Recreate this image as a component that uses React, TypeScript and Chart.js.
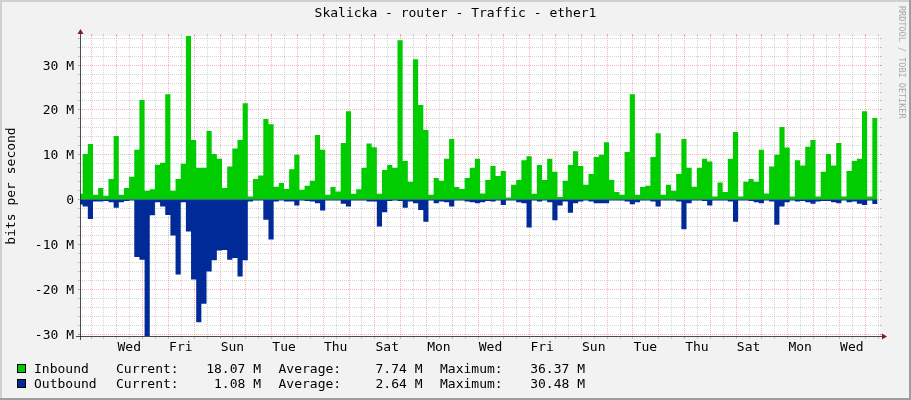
import React, { useEffect, useRef } from "react";
import { Chart, registerables } from "chart.js";

Chart.register(...registerables);

const W = 911;
const H = 400;

const TITLE = "Skalicka - router - Traffic - ether1";
const Y_AXIS_TITLE = "bits per second";
const WATERMARK = "RRDTOOL / TOBI OETIKER";

// x axis in days, 0 = left edge of plot
const SPAN_DAYS = 31;
const FIRST_MIDNIGHT = 0.407;
const STEP_DAYS = 0.2;
const DATA_START = -0.097;
const DAY_LABELS = ["Wed", "Fri", "Sun", "Tue", "Thu", "Sat", "Mon", "Wed", "Fri", "Sun", "Tue", "Thu", "Sat", "Mon", "Wed"];

// y axis in M (bits per second / 1e6)
const Y_MIN = -30.48;
const Y_MAX = 36.37;
const Y_TICKS = [-30, -20, -10, 0, 10, 20, 30];
const Y_TICK_LABELS = ["-30 M", "-20 M", "-10 M", "0", "10 M", "20 M", "30 M"];

const inbound = [
  1.2, 10.1, 12.3, 1.0, 2.5, 0.8, 4.5, 14.1, 1.0, 2.5,
  5.0, 11.0, 22.1, 1.9, 2.2, 7.7, 8.1, 23.4, 1.9, 4.5,
  7.9, 36.37, 13.2, 7.0, 7.0, 15.2, 10.1, 9.0, 2.5, 7.3,
  11.3, 13.2, 21.4, 0.6, 4.5, 5.3, 17.9, 16.7, 2.8, 3.6,
  2.3, 6.7, 9.9, 2.1, 3.0, 4.1, 14.3, 11.0, 1.0, 2.7,
  1.7, 12.5, 19.6, 1.2, 2.2, 7.0, 12.4, 11.6, 1.2, 6.5,
  7.6, 7.0, 35.4, 8.5, 3.9, 31.2, 21.0, 15.4, 1.0, 4.7,
  4.1, 9.0, 13.4, 2.7, 2.3, 4.7, 7.0, 9.0, 1.3, 4.3,
  7.4, 5.2, 6.3, 0.4, 3.2, 4.3, 8.7, 9.6, 1.2, 7.6,
  4.3, 9.0, 6.1, 0.5, 4.1, 7.6, 10.7, 7.4, 3.2, 5.6,
  9.4, 9.9, 12.7, 4.3, 1.6, 1.0, 10.5, 23.4, 1.0, 2.7,
  3.0, 9.4, 14.7, 1.0, 3.2, 1.9, 5.6, 13.4, 7.0, 2.8,
  7.0, 9.0, 8.4, 0.6, 3.7, 1.6, 9.0, 15.0, 0.6, 3.9,
  4.5, 3.9, 11.0, 1.3, 7.3, 9.9, 16.1, 11.5, 0.6, 8.7,
  7.5, 11.7, 13.2, 0.6, 6.1, 10.1, 7.5, 12.5, 0.6, 6.3,
  8.5, 9.0, 19.6, 0.6, 18.07,
];

const outbound = [
  1.2, 1.6, 4.4, 0.5, 0.5, 0.4, 0.7, 1.9, 0.7, 0.4,
  0.3, 12.9, 13.5, 30.48, 3.6, 0.7, 1.6, 3.5, 8.1, 16.8,
  0.7, 7.2, 17.9, 27.4, 23.3, 16.1, 13.6, 11.4, 11.3, 13.5,
  13.1, 17.2, 13.6, 0.5, 0.3, 0.3, 4.6, 9.0, 0.5, 0.3,
  0.5, 0.5, 1.4, 0.3, 0.4, 0.5, 0.9, 2.5, 0.3, 0.3,
  0.3, 1.0, 1.6, 0.3, 0.3, 0.3, 0.5, 0.5, 6.1, 2.9,
  0.4, 0.3, 0.4, 1.9, 0.5, 0.9, 2.4, 5.0, 0.3, 0.9,
  0.5, 0.7, 1.6, 0.3, 0.3, 0.5, 0.7, 0.9, 0.7, 0.4,
  0.5, 0.3, 1.3, 0.3, 0.3, 0.7, 0.9, 6.3, 0.3, 0.5,
  0.3, 0.7, 4.7, 1.4, 0.5, 3.0, 0.9, 0.5, 0.3, 0.5,
  0.9, 0.9, 0.9, 0.3, 0.3, 0.3, 0.5, 1.1, 0.7, 0.3,
  0.3, 0.5, 1.6, 0.3, 0.3, 0.3, 0.5, 6.7, 0.9, 0.3,
  0.3, 0.4, 1.4, 0.3, 0.3, 0.3, 0.5, 5.0, 0.3, 0.3,
  0.4, 0.7, 0.9, 0.3, 0.5, 5.7, 1.6, 0.7, 0.3, 0.5,
  0.4, 0.7, 1.0, 0.5, 0.4, 0.4, 0.7, 0.9, 0.3, 0.7,
  0.5, 1.0, 1.3, 0.3, 1.08,
];

const SERIES_NAMES = ["Inbound", "Outbound"];
const SERIES_COLORS = ["#00CC00", "#002A97"];
const CURRENT = ["18.07 M", "1.08 M"];
const AVERAGE = ["7.74 M", "2.64 M"];
const MAXIMUM = ["36.37 M", "30.48 M"];

const FONT = '"DejaVu Sans Mono", monospace';
const C_BACK = "#f2f2f2";
const C_SHADE_A = "#cfcfcf";
const C_SHADE_B = "#9e9e9e";
const C_GRID = "rgba(143,143,143,0.75)";
const C_MGRID = "rgba(222,79,79,0.6)";
const C_AXIS = "#1f1f1f";
const C_ARROW = "#801f1f";

function stepPoints(values: number[], sign: number) {
  const pts = values.map((v, i) => ({ x: DATA_START + STEP_DAYS * i, y: sign * v }));
  pts.push({ x: DATA_START + STEP_DAYS * values.length, y: sign * values[values.length - 1] });
  return pts;
}

const rrdPlugin = {
  id: "rrdFrame",
  beforeDatasetsDraw(chart: any) {
    const { ctx, chartArea, scales } = chart;
    const { left, right, top, bottom } = chartArea;
    const xs = scales.x;
    const ys = scales.y;
    ctx.save();
    ctx.fillStyle = C_BACK;
    ctx.fillRect(0, 0, W, H);
    // 3D frame
    ctx.fillStyle = C_SHADE_A;
    ctx.fillRect(0, 0, W, 2);
    ctx.fillRect(0, 0, 2, H);
    ctx.fillStyle = C_SHADE_B;
    ctx.fillRect(0, H - 2, W, 2);
    ctx.fillRect(W - 2, 0, 2, H);
    // canvas
    ctx.fillStyle = "#ffffff";
    ctx.fillRect(left, top, right - left, bottom - top);

    const drawH = (v: number, color: string, lw: number) => {
      const py = Math.round(ys.getPixelForValue(v)) + 0.5;
      ctx.strokeStyle = color;
      ctx.lineWidth = lw;
      ctx.setLineDash([1, 1]);
      ctx.beginPath();
      ctx.moveTo(left - 2, py);
      ctx.lineTo(right + 2, py);
      ctx.stroke();
      ctx.setLineDash([]);
      ctx.beginPath();
      ctx.moveTo(left - 2, py);
      ctx.lineTo(left, py);
      ctx.moveTo(right, py);
      ctx.lineTo(right + 2, py);
      ctx.stroke();
    };
    const drawV = (d: number, color: string, lw: number) => {
      const px = Math.round(xs.getPixelForValue(d)) + 0.5;
      ctx.strokeStyle = color;
      ctx.lineWidth = lw;
      ctx.setLineDash([1, 1]);
      ctx.beginPath();
      ctx.moveTo(px, top);
      ctx.lineTo(px, bottom);
      ctx.stroke();
      ctx.setLineDash([]);
      ctx.beginPath();
      ctx.moveTo(px, bottom);
      ctx.lineTo(px, bottom + 3);
      ctx.moveTo(px, top - 2);
      ctx.lineTo(px, top);
      ctx.stroke();
    };

    // minor horizontal every 2 M
    for (let v = Math.ceil(Y_MIN / 2) * 2; v <= Y_MAX; v += 2) {
      if (v % 10 !== 0) drawH(v, C_GRID, 0.5);
    }
    // minor vertical every 12 h
    for (let d = FIRST_MIDNIGHT + 0.5; d < SPAN_DAYS; d += 1) drawV(d, C_GRID, 0.5);
    // major
    for (const v of Y_TICKS) drawH(v, C_MGRID, 0.7);
    for (let d = FIRST_MIDNIGHT; d < SPAN_DAYS; d += 1) drawV(d, C_MGRID, 0.7);
    ctx.restore();
  },
  afterDatasetsDraw(chart: any) {
    const { ctx, chartArea, scales } = chart;
    const { left, right, top, bottom } = chartArea;
    const xs = scales.x;
    const ys = scales.y;
    ctx.save();
    // axes
    ctx.strokeStyle = C_AXIS;
    ctx.lineWidth = 0.8;
    ctx.beginPath();
    ctx.moveTo(left - 4, bottom + 0.5);
    ctx.lineTo(right + 4, bottom + 0.5);
    ctx.moveTo(left + 0.5, bottom + 4);
    ctx.lineTo(left + 0.5, top - 4);
    ctx.stroke();
    // arrows
    ctx.fillStyle = C_ARROW;
    ctx.beginPath();
    ctx.moveTo(right + 2, bottom - 3 + 0.5);
    ctx.lineTo(right + 2, bottom + 3 + 0.5);
    ctx.lineTo(right + 7, bottom + 0.5);
    ctx.closePath();
    ctx.fill();
    ctx.beginPath();
    ctx.moveTo(left - 3 + 0.5, top - 2);
    ctx.lineTo(left + 3 + 0.5, top - 2);
    ctx.lineTo(left + 0.5, top - 7);
    ctx.closePath();
    ctx.fill();

    ctx.fillStyle = "#000000";
    ctx.font = `13px ${FONT}`;
    // y tick labels
    ctx.textAlign = "right";
    ctx.textBaseline = "alphabetic";
    Y_TICKS.forEach((v, i) => {
      const py = Math.round(ys.getPixelForValue(v));
      ctx.fillText(Y_TICK_LABELS[i], 74, py + 5);
    });
    // x labels at noon of each second day
    ctx.textAlign = "center";
    DAY_LABELS.forEach((lab, k) => {
      const px = xs.getPixelForValue(FIRST_MIDNIGHT + 1.5 + 2 * k);
      ctx.fillText(lab, px, 351);
    });
    // title
    ctx.fillText(TITLE, 455.5, 17);
    // y axis title
    ctx.save();
    ctx.translate(15, 186);
    ctx.rotate(-Math.PI / 2);
    ctx.textAlign = "center";
    ctx.fillText(Y_AXIS_TITLE, 0, 0);
    ctx.restore();
    // watermark
    ctx.save();
    ctx.fillStyle = "#a8a8a8";
    ctx.font = `8.5px ${FONT}`;
    ctx.translate(899, 6);
    ctx.rotate(Math.PI / 2);
    ctx.textAlign = "left";
    ctx.fillText(WATERMARK, 0, 0);
    ctx.restore();
    // legend
    ctx.textAlign = "left";
    SERIES_NAMES.forEach((name, r) => {
      const base = 373 + r * 15;
      ctx.fillStyle = SERIES_COLORS[r];
      ctx.fillRect(17, base - 9, 9, 9);
      ctx.strokeStyle = "#000000";
      ctx.lineWidth = 1;
      ctx.strokeRect(17.5, base - 8.5, 8, 8);
      ctx.fillStyle = "#000000";
      ctx.textAlign = "left";
      ctx.fillText(name, 34, base);
      ctx.fillText("Current:", 116, base);
      ctx.fillText("Average:", 278.5, base);
      ctx.fillText("Maximum:", 440, base);
      ctx.textAlign = "right";
      ctx.fillText(CURRENT[r], 261, base);
      ctx.fillText(AVERAGE[r], 422.5, base);
      ctx.fillText(MAXIMUM[r], 585, base);
    });
    ctx.restore();
  },
};

export default function App() {
  const ref = useRef<HTMLCanvasElement>(null);
  useEffect(() => {
    document.body.style.margin = "0";
    const chart = new Chart(ref.current as HTMLCanvasElement, {
      type: "line",
      data: {
        datasets: [
          {
            label: SERIES_NAMES[0],
            data: stepPoints(inbound, 1),
            stepped: "before",
            fill: "origin",
            backgroundColor: SERIES_COLORS[0],
            borderColor: "rgba(0,0,0,0)",
            borderWidth: 0,
            pointRadius: 0,
          },
          {
            label: SERIES_NAMES[1],
            data: stepPoints(outbound, -1),
            stepped: "before",
            fill: "origin",
            backgroundColor: SERIES_COLORS[1],
            borderColor: "rgba(0,0,0,0)",
            borderWidth: 0,
            pointRadius: 0,
          },
        ],
      },
      options: {
        responsive: false,
        animation: false,
        devicePixelRatio: 1,
        parsing: false,
        layout: { padding: { left: 80, top: 36, right: 31, bottom: 64 } },
        plugins: { legend: { display: false }, tooltip: { enabled: false }, title: { display: false } },
        scales: {
          x: { type: "linear", display: false, min: 0, max: SPAN_DAYS },
          y: { type: "linear", display: false, min: Y_MIN, max: Y_MAX },
        },
        elements: { point: { radius: 0 }, line: { tension: 0 } },
      },
      plugins: [rrdPlugin],
    } as any);
    return () => chart.destroy();
  }, []);
  return (
    <div style={{ position: "absolute", left: 0, top: 0, width: W, height: H }}>
      <canvas ref={ref} width={W} height={H} style={{ display: "block", width: W, height: H }} />
    </div>
  );
}
